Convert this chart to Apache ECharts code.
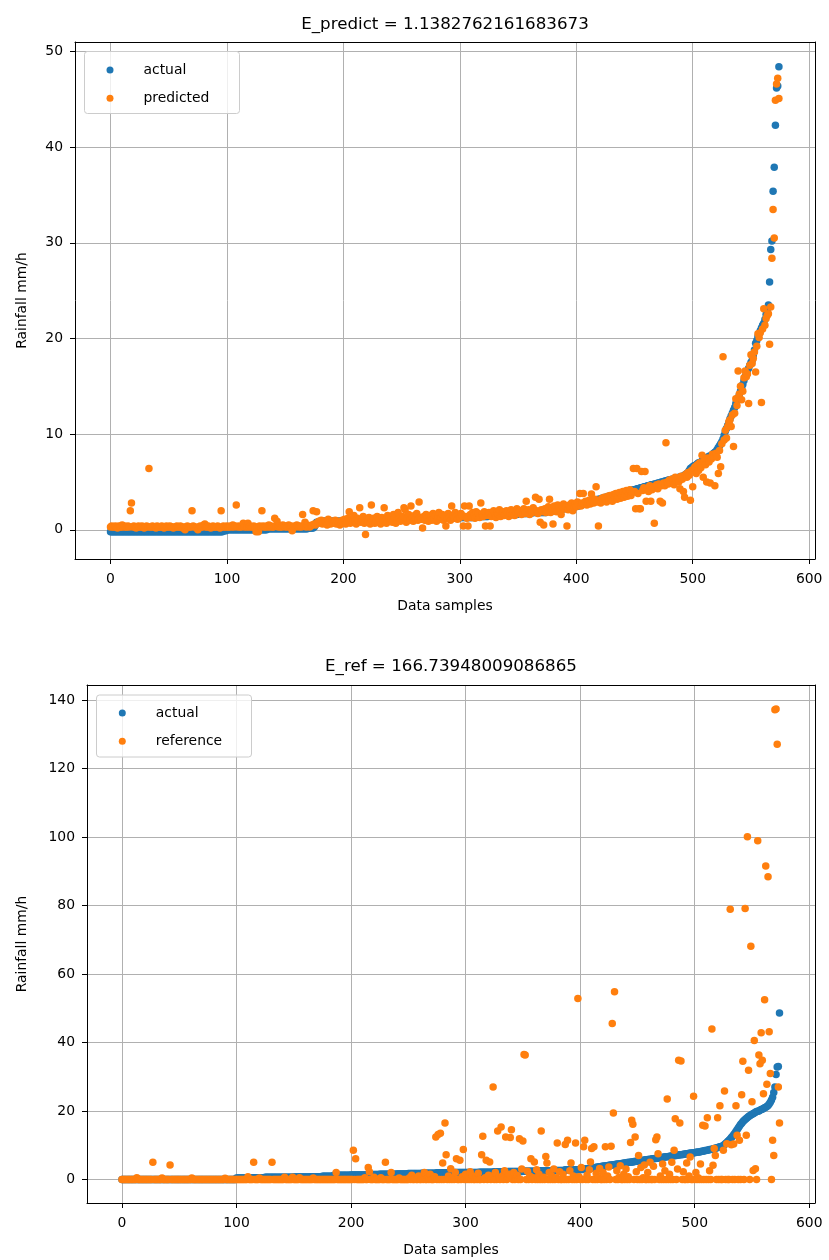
<!DOCTYPE html>
<html>
<head>
<meta charset="utf-8">
<script src="https://cdn.jsdelivr.net/npm/echarts@6/dist/echarts.min.js"></script>
<style>html,body{margin:0;padding:0;background:#fff;}#chart{width:829px;height:1260px;}</style>
</head>
<body>
<div id="chart"></div>
<script>
// ---- data (index = data sample) ----
const titleTop = "E_predict = 1.1382762161683673";
const titleBottom = "E_ref = 166.73948009086865";
const legendTop = ["actual", "predicted"];
const legendBottom = ["actual", "reference"];
const xLabel = "Data samples";
const yLabel = "Rainfall mm/h";

const actualTop = [
-0.2,-0.2,-0.2,-0.2,-0.2,-0.2,-0.2,-0.2,-0.2,-0.2,-0.2,-0.2,-0.2,-0.2,-0.2,-0.2,-0.2,-0.2,-0.2,-0.2,-0.2,-0.2,-0.2,-0.2,-0.2,
-0.2,-0.2,-0.2,-0.2,-0.2,-0.2,-0.2,-0.2,-0.2,-0.2,-0.2,-0.2,-0.2,-0.2,-0.2,-0.2,-0.2,-0.2,-0.2,-0.2,-0.2,-0.2,-0.2,-0.2,-0.2,
-0.2,-0.2,-0.2,-0.2,-0.2,-0.2,-0.2,-0.2,-0.2,-0.2,-0.2,-0.2,-0.2,-0.2,-0.2,-0.2,-0.2,-0.2,-0.2,-0.2,-0.2,-0.2,-0.2,-0.2,-0.2,
-0.2,-0.2,-0.2,-0.2,-0.2,-0.2,-0.2,-0.2,-0.2,-0.2,-0.2,-0.2,-0.2,-0.2,-0.2,-0.2,-0.2,-0.2,-0.2,-0.2,-0.2,-0.2,-0.1,-0.1,-0.1,
0.0,0.0,0.0,0.0,0.0,0.0,0.0,0.0,0.0,0.0,0.0,0.0,0.0,0.0,0.0,0.0,0.0,0.0,0.0,0.0,0.0,0.0,0.0,0.0,0.0,
0.0,0.0,0.0,0.0,0.0,0.0,0.0,0.0,0.0,0.0,0.1,0.1,0.1,0.1,0.1,0.1,0.1,0.1,0.1,0.1,0.1,0.1,0.1,0.1,0.1,
0.1,0.1,0.1,0.1,0.1,0.1,0.1,0.1,0.1,0.1,0.1,0.1,0.1,0.1,0.1,0.1,0.1,0.1,0.1,0.1,0.2,0.2,0.2,0.2,0.2,
0.3,0.5,0.8,0.8,0.8,0.9,0.9,0.9,0.9,0.9,0.9,0.9,0.9,0.9,0.9,0.9,0.9,0.9,0.9,0.9,0.9,0.9,0.9,0.9,0.9,
0.9,0.9,0.9,0.9,0.9,0.9,0.9,0.9,0.9,0.9,1.0,1.0,1.0,1.0,1.0,1.0,1.0,1.0,1.0,1.0,1.0,1.0,1.0,1.0,1.0,
1.0,1.0,1.0,1.0,1.0,1.0,1.0,1.0,1.0,1.0,1.0,1.0,1.0,1.0,1.0,1.0,1.0,1.0,1.0,1.0,1.0,1.0,1.0,1.0,1.0,
1.1,1.1,1.1,1.1,1.1,1.1,1.1,1.1,1.1,1.1,1.1,1.1,1.1,1.1,1.1,1.1,1.1,1.1,1.1,1.1,1.1,1.1,1.1,1.1,1.1,
1.2,1.2,1.2,1.2,1.2,1.2,1.2,1.2,1.2,1.2,1.2,1.2,1.2,1.2,1.2,1.2,1.2,1.2,1.2,1.2,1.2,1.2,1.2,1.2,1.2,
1.3,1.3,1.3,1.3,1.3,1.3,1.3,1.3,1.3,1.3,1.3,1.3,1.4,1.4,1.4,1.4,1.4,1.4,1.4,1.4,1.4,1.4,1.4,1.4,1.4,
1.5,1.5,1.5,1.5,1.5,1.5,1.5,1.5,1.5,1.5,1.5,1.5,1.6,1.6,1.6,1.6,1.6,1.6,1.6,1.6,1.6,1.6,1.6,1.6,1.6,
1.7,1.7,1.7,1.7,1.7,1.7,1.7,1.7,1.7,1.7,1.7,1.7,1.8,1.8,1.8,1.8,1.8,1.8,1.8,1.8,1.8,1.8,1.8,1.8,1.8,
2.0,2.0,2.0,2.0,2.0,2.0,2.0,2.0,2.2,2.2,2.2,2.2,2.2,2.2,2.2,2.2,2.4,2.4,2.4,2.4,2.4,2.4,2.4,2.4,2.4,
2.5,2.5,2.5,2.6,2.6,2.6,2.7,2.7,2.8,2.8,2.8,2.9,2.9,3.0,3.0,3.0,3.1,3.1,3.1,3.2,3.2,3.2,3.3,3.3,3.3,
3.4,3.4,3.4,3.5,3.5,3.5,3.6,3.6,3.6,3.7,3.7,3.7,3.8,3.8,3.8,3.9,3.9,3.9,4.0,4.0,4.0,4.1,4.1,4.1,4.2,
4.2,4.2,4.3,4.3,4.3,4.4,4.4,4.4,4.5,4.5,4.5,4.6,4.6,4.6,4.7,4.7,4.7,4.8,4.8,4.8,4.9,4.9,4.9,5.0,5.0,
5.0,5.1,5.1,5.1,5.2,5.2,5.2,5.3,5.3,5.3,5.4,5.4,5.4,5.5,5.5,5.5,5.6,5.6,5.7,5.8,5.9,6.0,6.2,6.4,6.5,
6.6,6.7,6.7,6.8,6.9,7.0,7.0,7.1,7.2,7.3,7.3,7.4,7.5,7.6,7.7,7.7,7.8,7.9,8.0,8.1,8.2,8.4,8.6,8.8,9.0,
9.2,9.5,9.9,10.3,10.6,10.9,11.2,11.6,11.9,12.2,12.5,12.8,13.2,13.5,13.8,14.1,14.5,14.8,15.2,15.6,16.0,16.3,16.6,16.9,17.2,
17.5,17.7,18.2,18.8,19.5,19.8,20.2,20.5,20.8,21.1,21.4,21.6,22.0,22.5,23.0,23.5,25.9,29.3,30.2,35.4,37.9,42.3,46.2,46.4,48.4
];

const predictedTop = [
0.3,0.4,0.3,0.3,0.4,0.3,0.2,0.4,0.3,0.3,0.5,0.3,0.4,0.3,0.3,0.4,0.3,2.0,2.8,0.3,0.4,0.3,0.2,0.3,0.4,
0.3,0.3,0.4,0.3,0.2,0.3,0.4,0.3,6.4,0.3,0.3,0.4,0.3,0.3,0.2,0.4,0.3,0.3,0.3,0.4,0.3,0.2,0.3,0.4,0.3,
0.3,0.4,0.3,0.3,0.2,0.3,0.3,0.4,0.3,0.3,0.4,0.3,0.2,0.3,0.0,0.3,0.4,0.3,0.3,0.3,2.0,0.4,0.3,0.3,0.2,
0.0,0.3,0.4,0.3,0.3,0.5,0.6,0.3,0.3,0.4,0.3,0.2,0.3,0.4,0.3,0.3,0.3,0.4,0.3,0.2,2.0,0.3,0.4,0.3,0.3,
0.4,0.3,0.3,0.4,0.3,0.5,0.3,0.4,2.6,0.3,0.4,0.3,0.3,0.4,0.7,0.3,0.4,0.3,0.7,0.3,0.4,0.3,0.3,0.4,0.3,
-0.2,0.3,-0.2,0.4,0.3,2.0,0.4,0.3,0.3,0.4,0.3,0.5,0.3,0.4,0.3,0.3,1.2,0.4,0.9,0.3,0.4,0.3,0.3,0.5,0.4,
0.3,0.4,0.3,0.5,0.3,0.4,-0.1,0.3,0.4,0.3,0.5,0.4,0.3,0.4,0.3,1.6,0.4,0.8,0.3,0.5,0.4,0.3,0.4,0.5,2.0,
0.6,0.5,1.9,0.8,0.9,0.7,1.0,0.6,0.8,0.9,0.7,0.5,1.1,0.8,0.6,0.9,0.7,0.8,1.0,0.6,0.9,0.8,0.5,0.7,1.0,
0.8,1.1,0.6,0.9,1.2,1.9,0.7,1.0,0.8,1.5,0.9,0.6,1.2,1.0,2.3,0.8,1.1,1.4,0.7,-0.5,1.0,0.9,1.3,0.6,2.6,
0.9,1.2,0.7,1.0,1.4,0.8,1.1,0.6,1.3,1.0,2.3,1.0,0.7,1.5,1.2,0.9,1.1,0.8,1.6,1.3,0.7,1.0,1.8,1.2,0.9,
1.1,1.4,2.3,2.1,0.8,1.2,1.6,1.0,2.5,1.3,0.9,1.5,1.2,1.7,1.0,2.9,1.3,1.1,0.2,1.4,1.0,1.6,1.2,0.9,1.5,
1.3,1.0,1.7,1.2,1.5,0.9,1.4,1.8,1.1,1.3,1.6,1.0,1.4,0.4,1.2,1.7,1.3,1.0,2.5,1.5,1.2,1.8,1.4,1.1,1.6,
1.3,1.7,1.5,0.4,2.5,1.4,1.2,0.4,2.5,1.6,1.3,1.8,1.5,1.2,1.9,1.4,1.7,1.3,2.8,1.6,1.4,1.9,0.4,1.5,1.7,
1.8,0.4,1.4,1.6,2.0,1.5,1.3,1.8,1.6,2.1,1.4,1.7,1.9,1.5,1.6,2.0,1.8,1.4,1.7,2.1,1.6,1.9,1.5,1.8,2.2,
1.7,1.9,2.0,1.6,1.8,2.2,1.7,3.0,1.9,2.1,1.6,2.0,1.8,2.3,1.9,3.4,2.0,1.7,3.2,0.8,2.1,1.9,0.5,2.2,1.8,
2.0,2.4,3.2,1.8,2.2,0.6,2.5,2.1,1.9,2.6,2.3,2.0,1.6,2.4,2.7,2.2,2.5,0.4,2.1,2.6,2.3,2.8,2.0,2.5,2.7,
2.4,2.9,2.6,3.8,2.5,2.8,3.8,2.7,3.0,2.6,2.9,3.1,2.7,3.75,3.0,2.8,3.2,4.5,2.9,0.4,3.1,2.8,3.3,3.0,3.4,
3.2,2.9,3.5,3.1,3.6,3.3,3.0,3.7,3.4,3.8,3.2,3.5,3.9,3.3,3.6,4.0,3.4,3.7,4.1,3.5,3.8,4.2,3.6,3.9,6.4,
4.0,2.2,6.4,3.8,2.2,2.2,6.1,4.1,4.4,6.1,3.0,4.3,4.0,4.6,3.0,4.2,4.5,0.7,4.4,4.7,4.3,4.8,3.0,4.6,2.8,
4.9,4.6,9.1,5.0,4.8,5.2,4.9,5.3,5.1,4.7,5.5,5.2,5.4,5.0,4.3,5.6,5.3,4.0,3.4,5.8,5.5,6.0,5.7,3.1,6.2,
4.5,6.4,6.6,5.9,6.8,6.2,7.0,6.5,7.8,5.5,7.2,6.8,5.0,7.5,7.1,4.9,7.4,7.9,7.7,4.6,8.0,7.6,5.9,8.3,6.6,
9.0,18.1,9.4,10.4,9.6,10.8,11.3,11.5,10.8,12.0,8.7,12.2,13.7,13.0,16.6,14.2,15.0,13.6,14.5,15.9,16.6,16.0,16.3,13.2,17.2,
18.3,17.4,17.9,18.6,16.5,19.2,20.5,20.1,20.6,13.3,21.0,23.1,21.4,22.1,22.4,22.6,19.4,23.3,28.4,33.5,30.5,44.9,46.6,47.2,45.1
];

const actualBottom = [
0,0,0,0,0,0,0,0,0,0,0,0,0,0,0,0,0,0,0,0,0,0,0,0,0,
0,0,0,0,0,0,0,0,0,0,0,0,0,0,0,0,0,0,0,0,0,0,0,0,0,
0,0,0,0,0,0,0,0,0,0,0,0,0,0,0,0,0,0,0,0,0,0,0,0,0,
0,0,0,0,0,0,0,0,0,0,0,0,0,0,0,0,0,0,0,0,0,0,0,0,0,
0.4,0.4,0.4,0.4,0.4,0.4,0.4,0.4,0.4,0.4,0.5,0.5,0.5,0.5,0.5,0.5,0.5,0.5,0.5,0.5,0.5,0.5,0.5,0.5,0.5,
0.6,0.6,0.6,0.6,0.6,0.6,0.6,0.6,0.6,0.6,0.6,0.6,0.6,0.6,0.6,0.6,0.6,0.6,0.6,0.6,0.6,0.6,0.6,0.6,0.6,
0.7,0.7,0.7,0.7,0.7,0.7,0.7,0.7,0.7,0.7,0.7,0.7,0.7,0.7,0.7,0.8,0.8,0.8,0.8,0.8,0.8,0.8,0.8,0.8,0.8,
0.9,0.9,0.9,0.9,0.9,0.9,0.9,0.9,0.9,0.9,1.2,1.2,1.2,1.2,1.2,1.2,1.2,1.2,1.2,1.2,1.2,1.2,1.2,1.2,1.2,
1.3,1.3,1.3,1.3,1.3,1.3,1.3,1.3,1.3,1.3,1.3,1.3,1.3,1.3,1.3,1.4,1.4,1.4,1.4,1.4,1.4,1.4,1.4,1.4,1.4,
1.5,1.5,1.5,1.5,1.5,1.5,1.5,1.5,1.5,1.5,1.5,1.5,1.5,1.5,1.5,1.6,1.6,1.6,1.6,1.6,1.6,1.6,1.6,1.6,1.6,
1.7,1.7,1.7,1.7,1.7,1.7,1.7,1.7,1.7,1.7,1.7,1.7,1.8,1.8,1.8,1.8,1.8,1.8,1.8,1.8,1.8,1.8,1.8,1.8,1.8,
1.9,1.9,1.9,1.9,1.9,1.9,1.9,1.9,1.9,1.9,1.9,1.9,2.0,2.0,2.0,2.0,2.0,2.0,2.0,2.0,2.0,2.0,2.0,2.0,2.0,
2.0,2.0,2.0,2.0,2.0,2.0,2.0,2.0,2.0,2.0,2.0,2.0,2.1,2.1,2.1,2.1,2.1,2.1,2.1,2.1,2.1,2.1,2.1,2.1,2.1,
2.2,2.2,2.2,2.2,2.2,2.2,2.2,2.2,2.2,2.2,2.2,2.2,2.3,2.3,2.3,2.3,2.3,2.3,2.3,2.3,2.3,2.3,2.3,2.3,2.3,
2.4,2.4,2.4,2.4,2.4,2.4,2.4,2.4,2.4,2.4,2.4,2.4,2.5,2.5,2.5,2.5,2.5,2.5,2.5,2.5,2.5,2.5,2.5,2.5,2.5,
2.6,2.6,2.6,2.6,2.6,2.6,2.6,2.6,2.6,2.6,2.6,2.6,2.8,2.8,2.8,2.8,2.8,2.8,2.8,2.8,2.8,2.8,2.8,2.8,2.8,
2.9,2.9,2.9,3.0,3.0,3.1,3.1,3.2,3.2,3.3,3.3,3.4,3.4,3.5,3.5,3.6,3.6,3.7,3.7,3.8,3.8,3.9,3.9,4.0,4.0,
4.1,4.1,4.2,4.2,4.3,4.3,4.4,4.4,4.5,4.5,4.6,4.6,4.7,4.7,4.8,4.8,4.9,4.9,5.0,5.0,5.1,5.1,5.2,5.2,5.3,
5.3,5.4,5.4,5.5,5.5,5.6,5.6,5.7,5.7,5.8,5.8,5.9,5.9,6.0,6.0,6.1,6.1,6.2,6.2,6.3,6.3,6.4,6.4,6.5,6.5,
6.6,6.6,6.7,6.7,6.8,6.8,6.9,6.9,7.0,7.0,7.1,7.1,7.2,7.2,7.3,7.3,7.4,7.4,7.5,7.5,7.6,7.6,7.7,7.7,7.8,
7.8,7.9,7.9,8.0,8.0,8.1,8.2,8.2,8.3,8.4,8.4,8.5,8.6,8.7,8.7,8.8,8.9,9.0,9.1,9.2,9.3,9.4,9.5,9.6,9.7,
9.9,10.2,10.5,10.8,11.1,11.4,11.8,12.2,12.6,13.0,13.5,14.0,14.5,15.0,15.5,16.0,16.4,16.8,17.2,17.5,17.8,18.1,18.4,18.6,18.8,
19.0,19.2,19.4,19.6,19.8,19.9,20.0,20.2,20.4,20.5,20.7,20.9,21.1,21.3,21.6,22.0,22.5,23.2,24.0,25.4,27.0,30.6,32.8,33.0,48.6
];

const referenceBottom = [
0,0,0,0,0,0,0,0,0,0,0,0,0,0.5,0,0,0,0,0,0,0,0,0,0,0,
0,0,5.0,0,0,0,0,0,0,0,0.4,0,0,0,0,0,0,4.2,0,0,0,0,0,0,0,
0,0,0,0,0,0,0,0,0,0,0,0.4,0,0,0,0,0,0,0,0,0,0,0,0,0,
0,0,0,0,0,0,0,0,0,0,0,0,0,0,0,0.3,0,0,0,0,0,0,0,0,0,
0,0,0,0,0,0,0,0,0,0,0.8,0,0,0,0,5.0,0,0,0,0,0.4,0,0,0,0,
0,0,0,0,0,0,5.0,0,0,0,0,0,0,0,0,0,0,0.6,0,0,0,0,0,0,0.6,
0,0,0,0,0,0.5,0,0,0,0,0,0,0,0,0,0,0,0.4,0,0,0,0,0,0,0,
0,0,0,0,0,0,0,0,0,0,0,0,2.0,0,0,0,0,0,0,0,0,0,0,0,0,
0,0,8.5,0,6.0,0,0,0,0,0,0,0,0.5,0,0,3.5,2.2,0,0,0,0.6,0,0,0,0,
0,0.5,0,0,0,5.0,0,0,0,0,2.0,0,0,0,0,0,0,0.4,0,0,0,0,0,0,0,
0,0.5,0,1.2,0,0,0.3,0,0,1.0,0,0,0.6,0,2.0,0,0,0.4,0,1.5,0,0,0,0.8,12.4,
0,13.1,0,13.5,0,4.8,0,16.5,7.2,0,1.0,0,3.1,0,0.5,0,2.0,6.0,0,0,5.6,0,0.8,8.7,0,
1.5,0,0.4,0,2.2,0,1.0,0,0,0.6,0,1.8,0,0,7.2,12.6,0,0.5,5.6,0,1.2,5.1,0,0.9,27.0,
0,2.0,0,14.1,0.5,0,15.3,1.0,0,2.5,12.4,0,0.8,1.5,12.2,14.5,0,2.0,0,0.4,1.2,0,11.9,0,3.0,
11.2,36.5,36.3,0,2.4,0,1.0,6.0,0,0.5,5.1,0,2.8,0,1.5,0,14.1,0,0.6,0,6.7,4.8,0,2.0,0,
1.0,0,3.0,0,0.5,10.6,0,2.2,0,0,1.5,0,10.2,0,11.4,0,2.5,4.8,0,1.0,0,10.6,0,52.8,0.8,
0,3.5,0,9.5,11.4,0,1.2,0,2.8,5.1,9.0,0,9.5,0,1.8,0,0.5,3.2,0,0,2.0,0,9.5,0,1.0,
3.6,0,9.7,45.5,19.4,54.8,0,2.5,0,0.6,4.0,0,0,1.5,0,3.0,0,0.8,0,10.8,17.3,16.1,0,12.4,2.2,
0,7.0,0,3.5,0,0.5,4.2,0,0,2.0,0,5.0,0,0,3.8,0,11.6,12.4,7.5,0,1.0,0,4.5,0,2.5,
0,23.5,0,1.5,0,5.0,0,8.5,17.7,0,3.0,34.8,16.5,34.6,0,2.2,0,0,4.8,0,1.0,6.5,0,0,24.3,
0,2.0,0,0.5,0,4.5,0,15.8,0,15.6,0,18.0,0,2.5,0,43.9,4.1,9.0,7.0,0,18.0,0,21.5,0,0,
8.5,25.8,0,10.4,0,0,78.9,10.1,0,10.3,0,21.5,12.9,0,11.4,0,24.7,34.5,0,79.1,12.9,100.1,31.9,0,68.1,
22.7,2.6,40.6,3.1,0,98.9,36.3,33.8,42.8,34.8,25.0,52.5,91.5,27.8,88.4,43.1,30.9,0,11.4,7.0,137.2,137.4,127.1,27.0,16.5
];

// ---- chart ----
const FONT = "DejaVu Sans";
const BLUE = "#1f77b4", ORANGE = "#ff7f0e";
const toPts = arr => arr.map((v, i) => [i, v]);

const grids = [
  {left: 75, top: 42, width: 740, height: 517},
  {left: 87, top: 685, width: 728, height: 518}
];
const xExt = [-30.5, 605];
const yExt = [[-3.05, 51.0], [-6.9, 144.4]];
const ySplit = [5, 7];
const yNameGap = [46, 58];

function mainX(gi) {
  return {
    gridIndex: gi, type: 'value', position: 'bottom', min: xExt[0], max: xExt[1], splitNumber: 6,
    axisLine: {onZero: false, lineStyle: {color: '#000', width: 1}},
    axisTick: {show: true, inside: false, length: 5, lineStyle: {color: '#000'}},
    axisLabel: {color: '#000', fontSize: 13.9, fontFamily: FONT, margin: 13, showMinLabel: false, showMaxLabel: false},
    splitLine: {show: true, showMinLine: false, showMaxLine: false, lineStyle: {color: '#b0b0b0', width: 1}},
    name: xLabel, nameLocation: 'middle', nameGap: 40,
    nameTextStyle: {color: '#000', fontSize: 13.9, fontFamily: FONT}
  };
}
function frameX(gi) {
  return {gridIndex: gi, type: 'value', position: 'top', min: xExt[0], max: xExt[1],
    axisLine: {onZero: false, lineStyle: {color: '#000', width: 1}},
    axisTick: {show: false}, axisLabel: {show: false}, splitLine: {show: false}};
}
function mainY(gi) {
  return {
    gridIndex: gi, type: 'value', position: 'left', min: yExt[gi][0], max: yExt[gi][1], splitNumber: ySplit[gi],
    axisLine: {show: true, onZero: false, lineStyle: {color: '#000', width: 1}},
    axisTick: {show: true, inside: false, length: 5, lineStyle: {color: '#000'}},
    axisLabel: {color: '#000', fontSize: 13.9, fontFamily: FONT, margin: 12, showMinLabel: false, showMaxLabel: false},
    splitLine: {show: true, showMinLine: false, showMaxLine: false, lineStyle: {color: '#b0b0b0', width: 1}},
    name: yLabel, nameLocation: 'middle', nameGap: yNameGap[gi],
    nameTextStyle: {color: '#000', fontSize: 13.9, fontFamily: FONT}
  };
}
function frameY(gi) {
  return {gridIndex: gi, type: 'value', position: 'right', min: yExt[gi][0], max: yExt[gi][1],
    axisLine: {show: true, onZero: false, lineStyle: {color: '#000', width: 1}},
    axisTick: {show: false}, axisLabel: {show: false}, splitLine: {show: false}};
}
function scatter(name, data, color, xi, yi) {
  return {type: 'scatter', name, data: toPts(data), xAxisIndex: xi, yAxisIndex: yi,
    symbol: 'circle', symbolSize: 7.5, itemStyle: {color, opacity: 1}, emphasis: {disabled: true}, z: 2};
}
function legendAt(items, left, top) {
  return {data: items.map(n => ({name: n, icon: 'circle'})), orient: 'vertical', left, top, padding: 0,
    itemWidth: 7, itemHeight: 7, itemGap: 14.3, selectedMode: false,
    textStyle: {color: '#000', fontSize: 13.9, fontFamily: FONT, padding: [0, 0, 0, 25]}};
}

const chart = echarts.init(document.getElementById('chart'), null, {renderer: 'canvas'});
chart.setOption({
  animation: false,
  backgroundColor: '#fff',
  grid: grids,
  xAxis: [mainX(0), frameX(0), mainX(1), frameX(1)],
  yAxis: [mainY(0), frameY(0), mainY(1), frameY(1)],
  legend: [legendAt(legendTop, 106.5, 63), legendAt(legendBottom, 118.8, 706)],
  series: [
    scatter(legendTop[0], actualTop, BLUE, 0, 0),
    scatter(legendTop[1], predictedTop, ORANGE, 0, 0),
    scatter(legendBottom[0], actualBottom, BLUE, 2, 2),
    scatter(legendBottom[1], referenceBottom, ORANGE, 2, 2)
  ],
  graphic: [
    {type: 'text', x: 445, y: 24.5, z: 5, style: {text: titleTop, fill: '#000', font: '16.7px "DejaVu Sans"', textAlign: 'center', textVerticalAlign: 'middle'}},
    {type: 'text', x: 451, y: 666.5, z: 5, style: {text: titleBottom, fill: '#000', font: '16.7px "DejaVu Sans"', textAlign: 'center', textVerticalAlign: 'middle'}},
    {type: 'rect', z: 3, shape: {x: 84.5, y: 51.5, width: 155, height: 62, r: 3}, style: {fill: 'rgba(255,255,255,0.8)', stroke: '#cccccc', lineWidth: 1}},
    {type: 'rect', z: 3, shape: {x: 96.5, y: 695, width: 155, height: 62, r: 3}, style: {fill: 'rgba(255,255,255,0.8)', stroke: '#cccccc', lineWidth: 1}}
  ]
});
</script>
</body>
</html>
